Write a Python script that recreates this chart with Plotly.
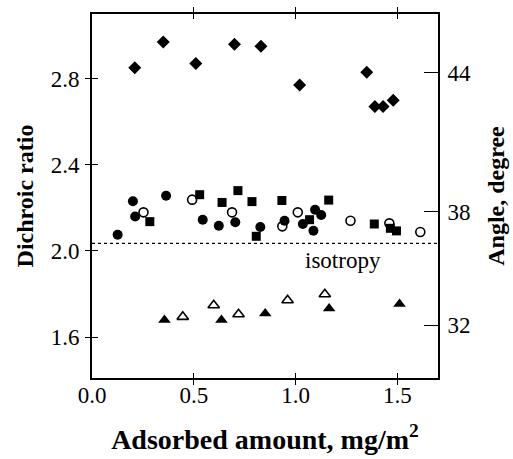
import plotly.graph_objects as go

# Data (adsorbed amount, dichroic ratio)
x_dia = [0.21, 0.35, 0.51, 0.70, 0.83, 1.02, 1.35, 1.39, 1.43, 1.48]
y_dia = [2.85, 2.97, 2.87, 2.96, 2.95, 2.77, 2.83, 2.67, 2.67, 2.70]

x_circ = [0.126, 0.201, 0.212, 0.364, 0.544, 0.623, 0.704, 0.827, 0.946, 1.036, 1.096, 1.126, 1.088]
y_circ = [2.075, 2.231, 2.160, 2.256, 2.145, 2.117, 2.133, 2.111, 2.140, 2.125, 2.191, 2.167, 2.094]

x_ocirc = [0.253, 0.492, 0.688, 0.935, 1.011, 1.270, 1.461, 1.613]
y_ocirc = [2.179, 2.238, 2.179, 2.114, 2.179, 2.140, 2.128, 2.088]

x_sq = [0.284, 0.529, 0.639, 0.717, 0.786, 0.807, 0.933, 1.163, 1.069, 1.387, 1.466, 1.496]
y_sq = [2.136, 2.261, 2.225, 2.280, 2.229, 2.068, 2.234, 2.236, 2.145, 2.125, 2.105, 2.093]

x_tri = [0.356, 0.636, 0.851, 1.165, 1.511]
y_tri = [1.679, 1.679, 1.710, 1.733, 1.753]

x_otri = [0.446, 0.598, 0.720, 0.961, 1.144]
y_otri = [1.694, 1.748, 1.706, 1.771, 1.799]

isotropy = 2.035

x_ticks = [0.0, 0.5, 1.0, 1.5]
y_ticks = [1.6, 2.0, 2.4, 2.8]
angle_pos = [2.828, 2.182, 1.656]
angle_labels = ["44", "38", "32"]

X_RANGE = [0.0, 1.70]
Y_RANGE = [1.41, 3.10]

FONT = "Liberation Serif"

fig = go.Figure()

fig.add_trace(go.Scatter(x=X_RANGE, y=[isotropy, isotropy], mode="lines",
                         line=dict(color="black", width=1.3, dash="dot"), hoverinfo="skip"))

def add(xs, ys, symbol, size, filled=True):
    fig.add_trace(go.Scatter(
        x=xs, y=ys, mode="markers",
        marker=dict(symbol=symbol, size=size,
                    color="black" if filled else "white",
                    line=dict(color="black", width=1.6 if not filled else 0))))

add(x_dia, y_dia, "diamond", 10)
add(x_ocirc, y_ocirc, "circle", 9, filled=False)
add(x_circ, y_circ, "circle", 10)
add(x_sq, y_sq, "square", 9)
add(x_otri, y_otri, "triangle-up", 10, filled=False)
add(x_tri, y_tri, "triangle-up", 11)

# traces to activate the extra y axes
fig.add_trace(go.Scatter(x=[0.5], y=[2.0], yaxis="y2", mode="markers",
                         marker=dict(opacity=0), showlegend=False, hoverinfo="skip"))
fig.add_trace(go.Scatter(x=[0.5], y=[2.0], yaxis="y3", mode="markers",
                         marker=dict(opacity=0), showlegend=False, hoverinfo="skip"))

fig.add_annotation(x=1.235, y=1.955, text="isotropy", showarrow=False,
                   yanchor="middle", xanchor="center",
                   font=dict(family=FONT, size=23, color="black"))

def afont():
    return dict(family=FONT, size=23, color="black")

def tfont(s=24):
    return dict(family=FONT, size=s, color="black")

fig.update_layout(
    width=513, height=459,
    margin=dict(l=92, r=75, t=14, b=81, autoexpand=False),
    paper_bgcolor="white", plot_bgcolor="white",
    showlegend=False,
    font=dict(family=FONT, size=20, color="black"),
    xaxis=dict(range=X_RANGE, tickvals=x_ticks, ticktext=[f"{v:.1f}" for v in x_ticks],
               ticks="inside", ticklen=5, tickwidth=1.3, tickcolor="black",
               showline=True, linecolor="black", linewidth=1.6, mirror="allticks",
               showgrid=False, zeroline=False, tickfont=afont(), ticklabelstandoff=-4,
               automargin=False,
               title=dict(text="<b>Adsorbed amount, mg/m<sup>2</sup></b>", font=tfont(28), standoff=22)),
    yaxis=dict(range=Y_RANGE, tickvals=y_ticks, ticktext=[f"{v:.1f}" for v in y_ticks],
               ticks="outside", ticklen=5, tickwidth=1.3, tickcolor="black",
               showline=True, linecolor="black", linewidth=1.6,
               showgrid=False, zeroline=False, tickfont=afont(), ticklabelstandoff=1,
               automargin=False,
               title=dict(text="<b>Dichroic ratio</b>", font=tfont(24), standoff=10)),
    yaxis3=dict(range=Y_RANGE, overlaying="y", side="left", tickvals=y_ticks,
                ticks="inside", ticklen=6, tickwidth=1.3, tickcolor="black", automargin=False,
                showticklabels=False, showgrid=False, zeroline=False, showline=False),
    yaxis2=dict(range=Y_RANGE, overlaying="y", side="right", tickvals=angle_pos, ticktext=angle_labels,
                ticks="inside", ticklen=14, tickwidth=1.3, tickcolor="black",
                showline=True, linecolor="black", linewidth=1.6,
                showgrid=False, zeroline=False, tickfont=afont(), ticklabelstandoff=3,
                automargin=False,
                title=dict(text="<b>Angle, degree</b>", font=tfont(24), standoff=17)),
)

fig.write_html("out.html")
